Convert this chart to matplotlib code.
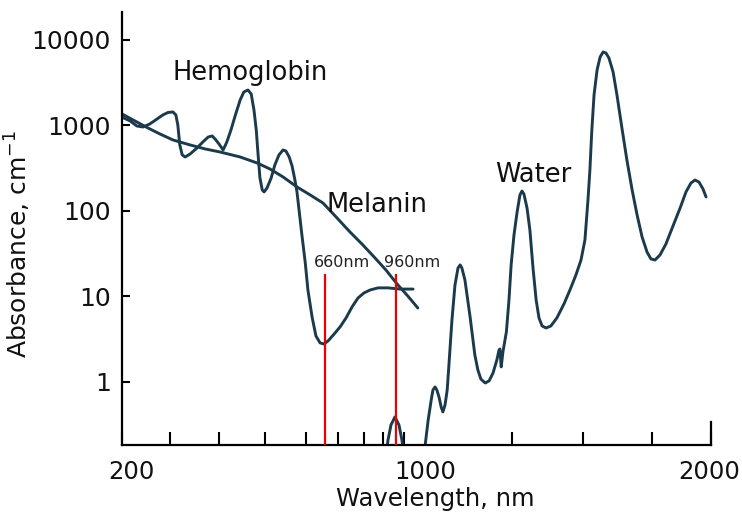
import numpy as np
import matplotlib
matplotlib.use("Agg")
import matplotlib.pyplot as plt

# ---------------- data ----------------
hb_nm = [200, 217, 231, 244, 258, 273, 285, 296, 306, 312,
         316, 320, 325, 331, 341, 355, 367, 378, 386, 392,
         400, 409, 417, 426, 435, 446, 454, 463, 470, 476,
         481, 485, 489, 494, 498, 505, 515, 524, 534, 544,
         551, 559, 566, 573, 578, 583, 590, 598, 606, 619,
         631, 644, 656, 669, 688, 708, 731, 754, 777, 800,
         832, 874, 924, 981, 1021]
hb_abs = [1250, 1129, 986, 960, 1042, 1191, 1327, 1420, 1439, 1327,
          1009, 592, 452, 428, 464, 545, 641, 733, 754, 695,
          608, 517, 641, 886, 1292, 1987, 2465, 2600, 2336, 1519,
          886, 452, 243, 176, 167, 186, 243, 345, 452, 517,
          503, 428, 336, 230, 167, 103, 52.4, 25.3, 11.9, 5.75,
          3.45, 2.86, 2.78, 3.02, 3.64, 4.40, 5.61, 7.54, 9.6, 11.0,
          11.9, 12.6, 12.6, 12.2, 12.2]

mel_nm = [200, 227, 254, 279, 306, 341, 372, 402, 446, 483,
          512, 544, 578, 613, 653, 697, 746, 792, 853, 914,
          967, 1009, 1032]
mel_abs = [1364, 1129, 935, 796, 677, 592, 531, 490, 428, 364,
           310, 250, 191, 154, 124, 82.8, 56.8, 41.1, 29.0, 20.4,
           14.0, 10.1, 7.33]

water_nm = [914, 924, 938, 957, 976, 990, 1000, 1023, 1042, 1049,
            1056, 1063, 1067, 1072, 1076, 1081, 1086, 1090, 1095, 1100,
            1104, 1111, 1118, 1125, 1130, 1134, 1141, 1153, 1164, 1171,
            1178, 1188, 1197, 1206, 1215, 1220, 1222, 1225, 1229, 1237,
            1243, 1248, 1257, 1268, 1278, 1285, 1292, 1303, 1313, 1324,
            1335, 1345, 1356, 1370, 1387, 1408, 1433, 1454, 1475, 1493,
            1507, 1518, 1525, 1532, 1540, 1551, 1562, 1573, 1583, 1594,
            1609, 1623, 1641, 1659, 1678, 1696, 1714, 1732, 1746, 1763,
            1784, 1809, 1839, 1869, 1894, 1915, 1932, 1949, 1966, 1979]
water_abs = [0.140, 0.210, 0.314, 0.390, 0.314, 0.210, 0.140, 0.042, 0.116, 0.183,
             0.360, 0.616, 0.806, 0.874, 0.806, 0.668, 0.510, 0.446, 0.538, 0.806,
             1.58, 5.31, 13.6, 21.5, 23.4, 21.5, 15.6, 5.75, 2.07, 1.38,
             1.08, 0.973, 1.03, 1.27, 1.81, 2.37, 2.43, 1.50, 2.24, 3.85,
             9.10, 23.4, 52.4, 97.3, 154, 171, 158, 108, 60, 21.5,
             9.10, 5.61, 4.52, 4.28, 4.52, 5.61, 8.17, 11.9, 17.8, 26.7,
             45.8, 134, 302, 886, 2275, 4457, 6324, 7244, 7047, 6156,
             4224, 2275, 935, 395, 176, 89.8, 49.7, 33.1, 27.5, 26.7,
             30.6, 41.1, 66.8, 108, 167, 212, 230, 218, 181, 146]

marker_nm = [660, 960]
marker_labels = ["660nm", "960nm"]
marker_top = 18.3

curve_labels = ["Hemoglobin", "Melanin", "Water"]

x_tick_values = [200, 1000, 2000]
x_tick_labels = ["200", "1000", "2000"]
minor_tick_nm = [300, 400, 500, 600, 700, 800, 900, 1250, 1500, 1750]
y_tick_values = [1, 10, 100, 1000, 10000]
y_tick_labels = ["1", "10", "100", "1000", "10000"]

# ---------------- axis scale (schematic, piecewise) ----------------
scale_nm = np.array([200, 300, 400, 500, 600, 700, 800, 900, 1000,
                     1250, 1500, 1750, 2000], float)
scale_pos = np.array([0, 48, 97, 143, 184, 216, 242, 261, 282,
                      390, 461, 530, 589], float)


def fwd(x):
    return np.interp(np.asarray(x, float), scale_nm, scale_pos)


def inv(p):
    return np.interp(np.asarray(p, float), scale_pos, scale_nm)


# ---------------- figure ----------------
W, H = 742, 515
fig = plt.figure(figsize=(W / 100, H / 100), dpi=100)
ax = fig.add_axes([122 / W, (H - 445) / H, (711 - 122) / W, (445 - 12) / H])

ax.set_xscale("function", functions=(fwd, inv))
ax.set_yscale("log")
ymin, ymax = 0.183, 21250
ax.set_xlim(200, 2000)
ax.set_ylim(ymin, ymax)

line_col = "#1b3a4b"
lw = 2.1
for xs, ys in [(hb_nm, hb_abs), (mel_nm, mel_abs), (water_nm, water_abs)]:
    ax.plot(xs, ys, color=line_col, lw=lw, solid_joinstyle="round",
            solid_capstyle="round")

# red marker lines
ax.vlines(marker_nm, ymin, marker_top, color="#ee0000", lw=1.6, zorder=3)
for w, lab in zip(marker_nm, marker_labels):
    ax.annotate(lab, xy=(w, marker_top), xytext=(-8, 3),
                textcoords="offset points", ha="left", va="bottom",
                fontsize=11.5, color="#222222")

# curve labels
label_pos = [(0.085, 0.843), (0.348, 0.538), (0.633, 0.607)]
for lab, (px, py) in zip(curve_labels, label_pos):
    ax.text(px, py, lab, transform=ax.transAxes, fontsize=18.5,
            ha="left", va="baseline", color="#111111")

# spines
ax.spines["top"].set_visible(False)
for s in ["left", "bottom", "right"]:
    ax.spines[s].set_linewidth(1.6)
ax.spines["right"].set_bounds(ymin, 0.34)

# x ticks
ax.set_xticks(x_tick_values)
ax.set_xticklabels([])
ax.set_xticks(minor_tick_nm, minor=True)
ax.tick_params(axis="x", which="both", direction="in", length=9.5,
               width=1.5, color="black")
label_offsets = [7, 15, -1]
for w, lab, off in zip(x_tick_values, x_tick_labels, label_offsets):
    ax.annotate(lab, xy=(w, 0), xycoords=("data", "axes fraction"),
                xytext=(off, -10.5), textcoords="offset points",
                ha="center", va="top", fontsize=17.5, color="#111111")

# y ticks
ax.set_yticks(y_tick_values)
ax.set_yticklabels(y_tick_labels)
ax.yaxis.set_minor_locator(matplotlib.ticker.NullLocator())
ax.tick_params(axis="y", direction="in", length=6, width=1.5, pad=8,
               labelsize=18, labelcolor="#111111")

ax.set_xlabel("Wavelength, nm", fontsize=17.5, color="#111111")
ax.xaxis.set_label_coords(0.531, -0.097)
ax.set_ylabel("Absorbance, cm$^{-1}$", fontsize=18, color="#111111")
ax.yaxis.set_label_coords(-0.151, 0.464)

fig.savefig("out.png", dpi=100)
